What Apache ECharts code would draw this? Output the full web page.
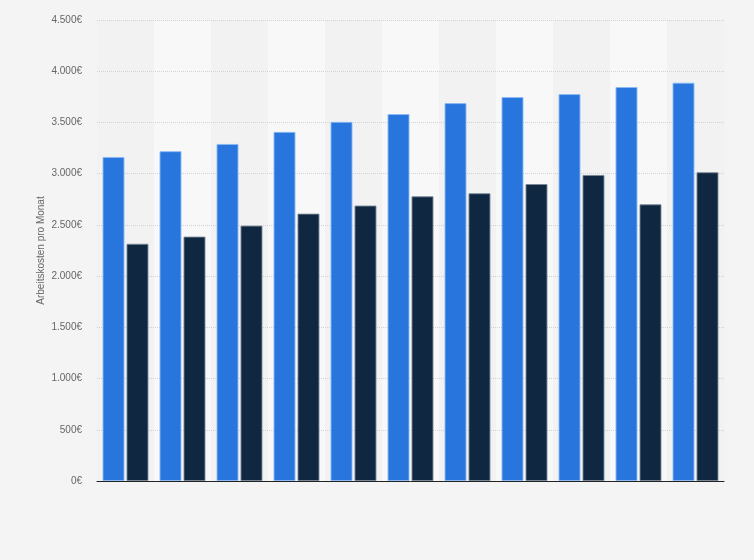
<!DOCTYPE html>
<html>
<head>
<meta charset="utf-8">
<script src="https://cdn.jsdelivr.net/npm/echarts@6/dist/echarts.min.js"></script>
<style>
  html, body { margin: 0; padding: 0; background: #f4f4f4; }
  #chart { width: 754px; height: 560px; }
</style>
</head>
<body>
<div id="chart"></div>
<script>
// 11 Kategorien, Achsenbeschriftung ist im Original nicht sichtbar
const categories = ['1', '2', '3', '4', '5', '6', '7', '8', '9', '10', '11'];
const serieA = [3163, 3220, 3290, 3408, 3506, 3582, 3689, 3748, 3777, 3846, 3888];
const serieB = [2316, 2386, 2493, 2610, 2689, 2779, 2809, 2899, 2987, 2701, 3014];
const yTicks = [0, 500, 1000, 1500, 2000, 2500, 3000, 3500, 4000, 4500];

function euro(v) {
  return String(v).replace(/\B(?=(\d{3})+(?!\d))/g, '.') + '€';
}

const chart = echarts.init(document.getElementById('chart'));

chart.setOption({
  backgroundColor: '#f4f4f4',
  animation: false,
  textStyle: { fontFamily: 'Liberation Sans, Arial, sans-serif' },
  grid: { left: 97, right: 30, top: 20, bottom: 79 },
  xAxis: {
    type: 'category',
    data: categories,
    z: 0,
    axisLabel: { show: false },
    axisTick: { show: false },
    axisLine: { lineStyle: { color: '#222', width: 1 } },
    splitArea: {
      show: true,
      areaStyle: { color: ['#f2f2f2', '#f8f8f8'] }
    }
  },
  yAxis: {
    type: 'value',
    z: 1,
    min: yTicks[0],
    max: yTicks[yTicks.length - 1],
    interval: 500,
    name: 'Arbeitskosten pro Monat',
    nameLocation: 'middle',
    nameGap: 51,
    nameMoveOverlap: false,
    nameTextStyle: { color: '#666', fontSize: 10 },
    axisLine: { show: false },
    axisTick: { show: false },
    axisLabel: {
      color: '#666',
      fontSize: 10,
      margin: 15,
      formatter: euro
    },
    splitLine: {
      showMinLine: false,
      lineStyle: { color: '#d2d2d2', type: [1, 1], width: 1 }
    }
  },
  series: [
    {
      type: 'bar',
      data: serieA,
      barWidth: 22,
      barGap: '9%',
      z: 3,
      itemStyle: {
        color: '#2876dd',
        borderColor: 'rgba(140,185,245,0.9)',
        borderWidth: 1
      }
    },
    {
      type: 'bar',
      data: serieB,
      barWidth: 22,
      z: 3,
      itemStyle: {
        color: '#0f2741',
        borderColor: 'rgba(120,135,150,0.9)',
        borderWidth: 1
      }
    }
  ]
});
</script>
</body>
</html>
